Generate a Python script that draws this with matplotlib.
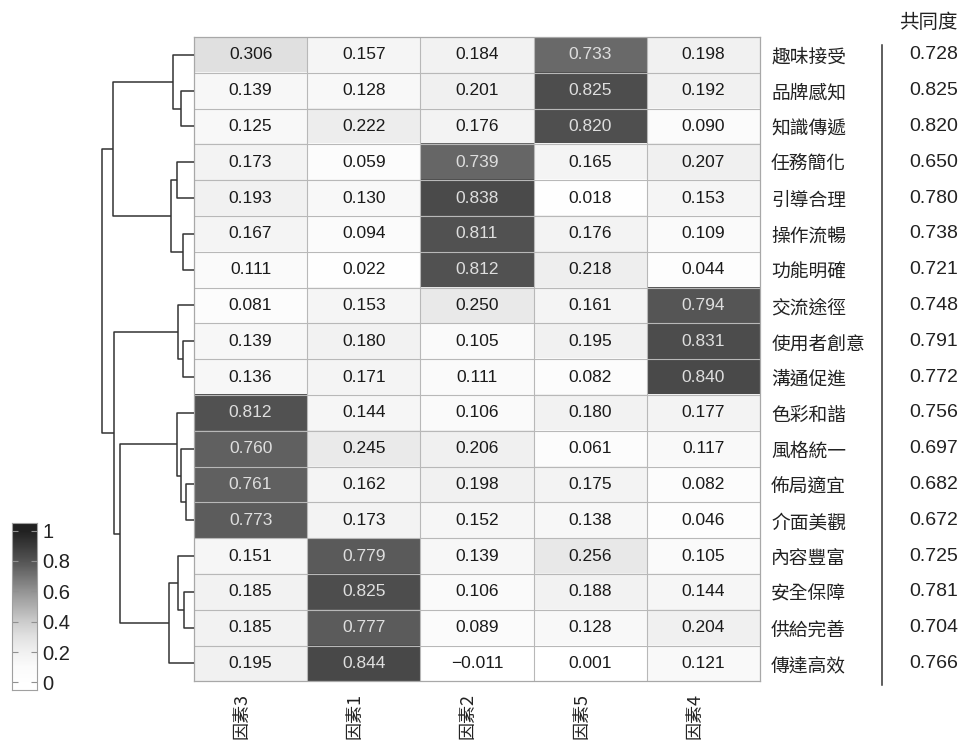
import numpy as np
import matplotlib
matplotlib.use("Agg")
import matplotlib.pyplot as plt
from matplotlib import transforms
from matplotlib.colors import LinearSegmentedColormap, Normalize

# factor columns in clustered order
factors = ["因素3", "因素1", "因素2", "因素5", "因素4"]

# items (rows) in dendrogram order
items = ["趣味接受", "品牌感知", "知識傳遞", "任務簡化", "引導合理", "操作流暢",
         "功能明確", "交流途徑", "使用者創意", "溝通促進", "色彩和諧", "風格統一",
         "佈局適宜", "介面美觀", "內容豐富", "安全保障", "供給完善", "傳達高效"]

loadings = np.array([
    [0.306, 0.157, 0.184, 0.733, 0.198],
    [0.139, 0.128, 0.201, 0.825, 0.192],
    [0.125, 0.222, 0.176, 0.820, 0.090],
    [0.173, 0.059, 0.739, 0.165, 0.207],
    [0.193, 0.130, 0.838, 0.018, 0.153],
    [0.167, 0.094, 0.811, 0.176, 0.109],
    [0.111, 0.022, 0.812, 0.218, 0.044],
    [0.081, 0.153, 0.250, 0.161, 0.794],
    [0.139, 0.180, 0.105, 0.195, 0.831],
    [0.136, 0.171, 0.111, 0.082, 0.840],
    [0.812, 0.144, 0.106, 0.180, 0.177],
    [0.760, 0.245, 0.206, 0.061, 0.117],
    [0.761, 0.162, 0.198, 0.175, 0.082],
    [0.773, 0.173, 0.152, 0.138, 0.046],
    [0.151, 0.779, 0.139, 0.256, 0.105],
    [0.185, 0.825, 0.106, 0.188, 0.144],
    [0.185, 0.777, 0.089, 0.128, 0.204],
    [0.195, 0.844, -0.011, 0.001, 0.121],
])

communality = [0.728, 0.825, 0.820, 0.650, 0.780, 0.738, 0.721, 0.748, 0.791,
               0.772, 0.756, 0.697, 0.682, 0.672, 0.725, 0.781, 0.704, 0.766]

# row clustering: (left, right, height); merged nodes numbered from 18 on
row_links = [
    (1, 2, 13.3), (0, 18, 20.7), (3, 4, 17.3), (5, 6, 11.3), (20, 21, 22.7),
    (19, 22, 81.3), (8, 9, 10.7), (7, 24, 15.7), (12, 13, 8.0), (11, 26, 13.3),
    (10, 27, 17.3), (15, 16, 9.7), (14, 29, 15.7), (30, 17, 25.3),
    (28, 31, 74.0), (25, 32, 80.0), (23, 33, 91.7),
]

cbar_ticks = [0, 0.2, 0.4, 0.6, 0.8, 1]
cbar_labels = ["0", "0.2", "0.4", "0.6", "0.8", "1"]

cjk = ["Noto Sans CJK TC", "DejaVu Sans"]
num_font = "Liberation Sans"

W, H = 962, 740
fig = plt.figure(figsize=(W / 100, H / 100), dpi=100)

# white -> near black, flat near zero so small loadings stay pale
grays = [(0.0, 1.0), (0.1, 0.985), (0.2, 0.945), (0.3, 0.885), (0.4, 0.80),
         (0.6, 0.58), (0.8, 0.33), (1.0, 0.13)]
cmap = LinearSegmentedColormap.from_list("loading_gray", [(v, (g, g, g)) for v, g in grays])
norm = Normalize(vmin=0, vmax=1, clip=True)

n_rows, n_cols = loadings.shape
hm_left, hm_right, hm_top, hm_bottom = 194, 760, 37, 681.4
ax = fig.add_axes([hm_left / W, 1 - hm_bottom / H, (hm_right - hm_left) / W,
                   (hm_bottom - hm_top) / H])
ax.imshow(loadings, cmap=cmap, norm=norm, aspect="auto", interpolation="nearest")
ax.set_xlim(-0.5, n_cols - 0.5)
ax.set_ylim(n_rows - 0.5, -0.5)

grid_col = "#b8b8b8"
ax.hlines(np.arange(0.5, n_rows - 0.5), -0.5, n_cols - 0.5, color=grid_col, lw=0.8)
ax.vlines(np.arange(0.5, n_cols - 0.5), -0.5, n_rows - 0.5, color=grid_col, lw=0.8)
for s in ax.spines.values():
    s.set_color("#a8a8a8")
    s.set_linewidth(0.9)

for i in range(n_rows):
    for j in range(n_cols):
        v = loadings[i, j]
        txt = f"{v:.3f}".replace("-", "\u2212")
        ax.text(j, i, txt, ha="center", va="center", fontsize=12.5, family=num_font,
                color="#dedede" if v > 0.5 else "#1a1a1a")

ax.set_yticks(range(n_rows))
ax.set_yticklabels(items, family=cjk, fontsize=13.5, color="#222222")
ax.yaxis.tick_right()
ax.set_xticks(range(n_cols))
ax.set_xticklabels(factors, family=cjk, fontsize=13, rotation=90, ha="right",
                   color="#222222")
ax.tick_params(axis="y", length=0, pad=8)
ax.tick_params(axis="x", length=0, pad=8)

# communality column on the right
blend = transforms.blended_transform_factory(fig.transFigure, ax.transData)
for i, c in enumerate(communality):
    ax.text(958 / W, i, f"{c:.3f}", transform=blend, ha="right", va="center",
            fontsize=14, family=num_font, color="#222222")
ax.plot([882 / W, 882 / W], [-0.28, 17.6], transform=blend, clip_on=False,
        color="#333333", lw=1.1)
fig.text(958 / W, 1 - 23 / H, "共同度", ha="right", va="center", fontsize=14,
         family=cjk, color="#222222")

# dendrogram of the rows
dax = fig.add_axes([98 / W, 1 - hm_bottom / H, 96 / W, (hm_bottom - hm_top) / H])
pos = {i: (float(i), 0.0) for i in range(n_rows)}
for k, (a, b, h) in enumerate(row_links):
    ya, ha_ = pos[a]
    yb, hb = pos[b]
    dax.plot([ha_, h, h, hb], [ya, ya, yb, yb], color="#333333", lw=1.1,
             solid_capstyle="butt")
    pos[n_rows + k] = ((ya + yb) / 2, h)
dax.set_xlim(96, 0)
dax.set_ylim(n_rows - 0.5, -0.5)
dax.axis("off")

# colour key
cax = fig.add_axes([12 / W, 1 - 690 / H, 25 / W, 167 / H])
grad = np.linspace(-0.05, 1.05, 300)[:, None]
cax.imshow(grad, cmap=cmap, norm=norm, aspect="auto", origin="lower",
           extent=[0, 1, -0.05, 1.05])
cax.set_xticks([])
cax.set_yticks(cbar_ticks)
cax.set_yticklabels(cbar_labels, family=num_font, fontsize=14.5, color="#222222")
cax.tick_params(axis="y", left=True, right=True, direction="in", length=4,
                color="#909090", labelleft=False, labelright=True, pad=4)
for s in cax.spines.values():
    s.set_color("#a0a0a0")
    s.set_linewidth(0.8)

fig.savefig("out.png", dpi=100)
